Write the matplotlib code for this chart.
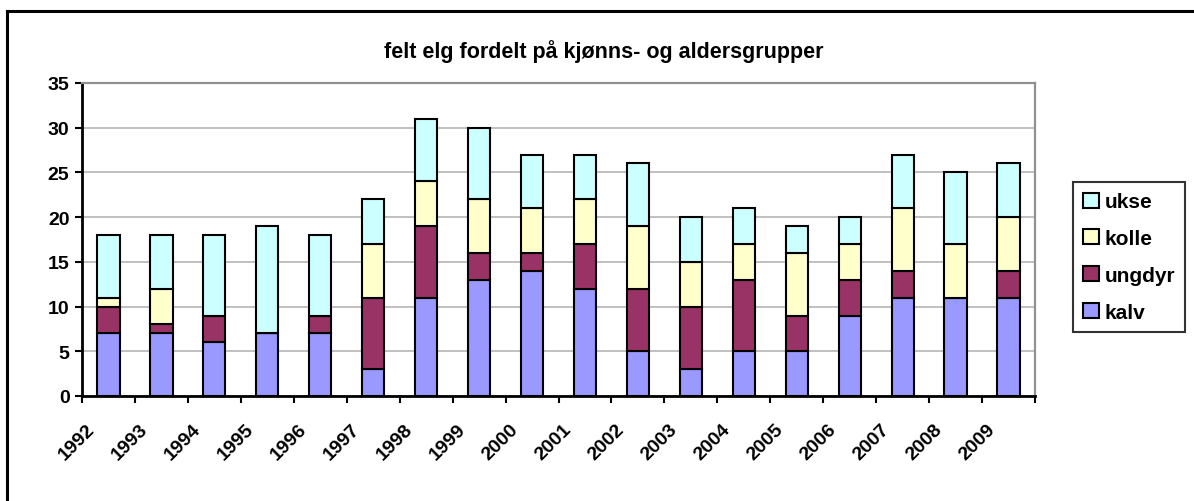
import matplotlib
matplotlib.use("Agg")
import matplotlib.pyplot as plt
import matplotlib.transforms as mtransforms
import numpy as np
from matplotlib.lines import Line2D

years = [str(y) for y in range(1992, 2010)]
kalv = [7, 7, 6, 7, 7, 3, 11, 13, 14, 12, 5, 3, 5, 5, 9, 11, 11, 11]
ungdyr = [3, 1, 3, 0, 2, 8, 8, 3, 2, 5, 7, 7, 8, 4, 4, 3, 0, 3]
kolle = [1, 4, 0, 0, 0, 6, 5, 6, 5, 5, 7, 5, 4, 7, 4, 7, 6, 6]
ukse = [7, 6, 9, 12, 9, 5, 7, 8, 6, 5, 7, 5, 4, 3, 3, 6, 8, 6]

series = [("kalv", kalv, "#9999FF"), ("ungdyr", ungdyr, "#993366"),
          ("kolle", kolle, "#FFFFCC"), ("ukse", ukse, "#CCFFFF")]

plt.rcParams['font.family'] = ['Liberation Sans', 'DejaVu Sans']
plt.rcParams['font.weight'] = 'bold'

fig = plt.figure(figsize=(11.94, 5.02), dpi=100)
W, H = 1194, 502
ax = fig.add_axes([82 / W, 1 - 397 / H, (1035 - 82) / W, (397 - 84) / H])

x = np.arange(len(years))
bottom = np.zeros(len(years))
handles = []
for name, vals, color in series:
    b = ax.bar(x, vals, width=0.42, bottom=bottom, color=color,
               edgecolor='black', linewidth=1.5, label=name, zorder=3)
    handles.append(b)
    bottom += np.array(vals)

ax.set_xlim(-0.5, len(years) - 0.5)
ax.set_ylim(0, 35)
ax.set_yticks(np.arange(0, 36, 5))
ax.yaxis.grid(True, color='#c0c0c0', linewidth=1.4, zorder=0)
ax.set_axisbelow(True)

ax.set_xticks(x)
ax.set_xticklabels(years, rotation=45, ha='right', va='center',
                   rotation_mode='anchor')
ax.set_xticks(np.arange(-0.5, len(years)), minor=True)
ax.tick_params(axis='x', which='major', length=0, pad=22, labelsize=14)
ax.tick_params(axis='x', which='minor', length=5, width=1.5, direction='out')
ax.tick_params(axis='y', length=5, width=1.5, labelsize=14, pad=4)

# Excel puts the rotated labels a bit left of the bar centre
shift = mtransforms.ScaledTranslation(-16 / 100, 0, fig.dpi_scale_trans)
for lab in ax.get_xticklabels():
    lab.set_transform(lab.get_transform() + shift)

for s in ['left', 'bottom']:
    ax.spines[s].set_color('black')
    ax.spines[s].set_linewidth(2)
for s in ['top', 'right']:
    ax.spines[s].set_color('#909090')
    ax.spines[s].set_linewidth(1.6)

fig.text(604 / W, 1 - 52 / H, "felt elg fordelt på kjønns- og aldersgrupper",
         ha='center', va='center', fontsize=15.5, fontweight='bold')

leg = fig.legend(handles[::-1], [s[0] for s in series][::-1],
                 loc='upper left', bbox_to_anchor=(1073 / W, 1 - 183 / H),
                 frameon=True, fancybox=False, edgecolor='black',
                 fontsize=15, handlelength=0.75, handleheight=0.75,
                 handletextpad=0.25, labelspacing=0.85, borderpad=0.5,
                 borderaxespad=0)
leg.get_frame().set_linewidth(1.5)

# outer chart border (only left and top visible in the crop)
fig.add_artist(Line2D([7 / W, 7 / W], [0, 1 - 12 / H], color='black',
                      linewidth=2.2, transform=fig.transFigure))
fig.add_artist(Line2D([7 / W, 1], [1 - 12 / H, 1 - 12 / H], color='black',
                      linewidth=2.2, transform=fig.transFigure))

fig.savefig("out.png", dpi=100)
